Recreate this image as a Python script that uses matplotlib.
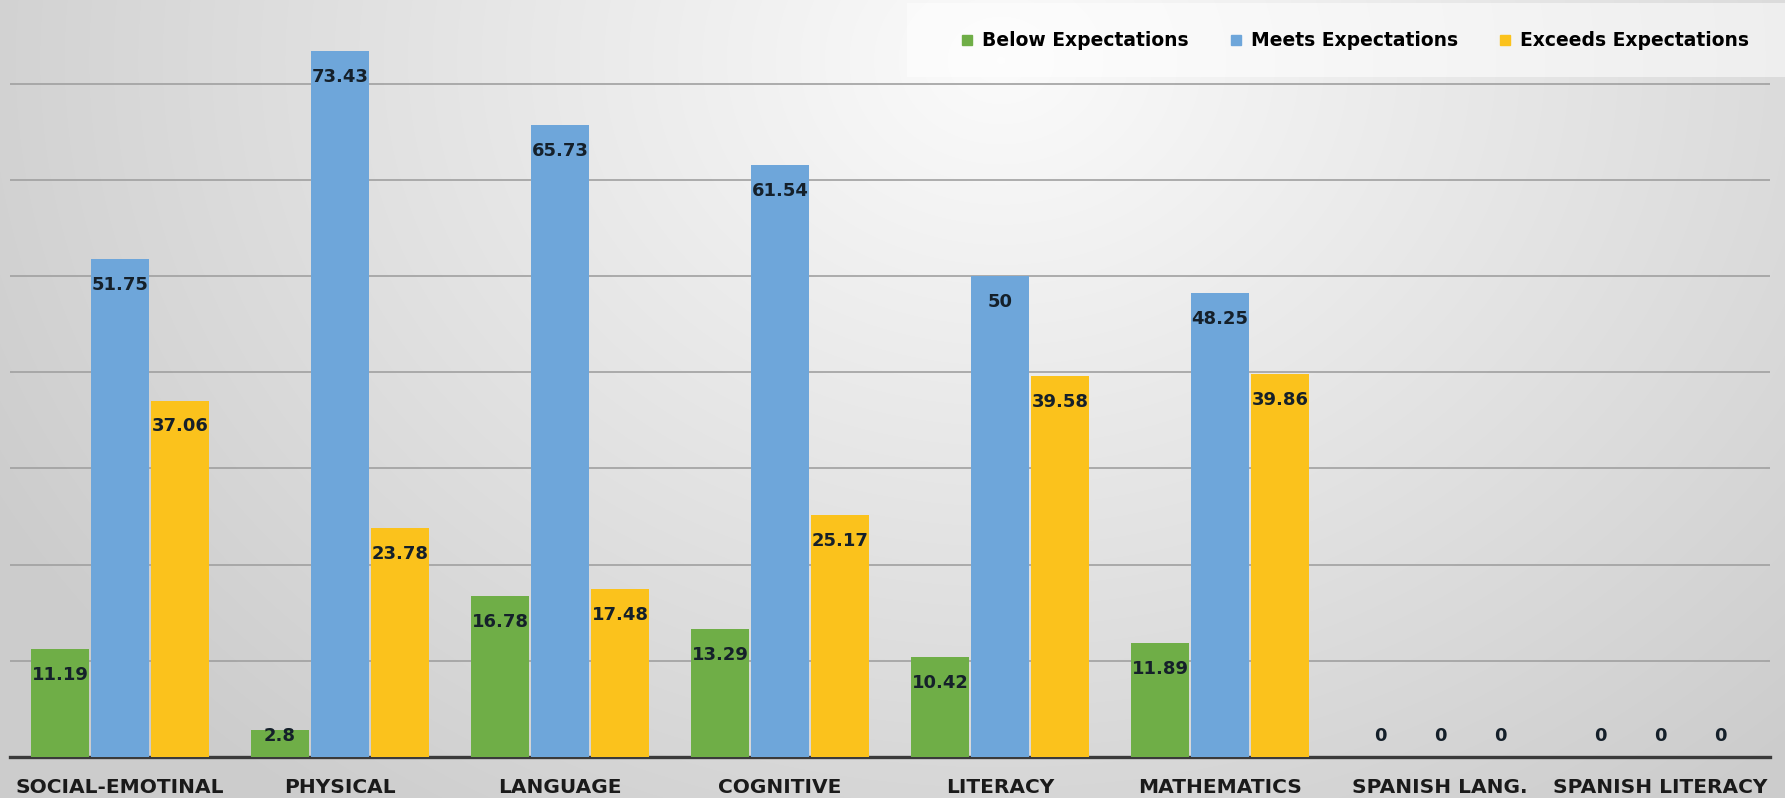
import numpy as np
import matplotlib
matplotlib.use("Agg")
import matplotlib.pyplot as plt
from matplotlib.patches import Rectangle
from matplotlib.lines import Line2D

categories = ["SOCIAL-EMOTINAL", "PHYSICAL", "LANGUAGE", "COGNITIVE",
              "LITERACY", "MATHEMATICS", "SPANISH LANG.", "SPANISH LITERACY"]
below = [11.19, 2.8, 16.78, 13.29, 10.42, 11.89, 0, 0]
meets = [51.75, 73.43, 65.73, 61.54, 50, 48.25, 0, 0]
exceeds = [37.06, 23.78, 17.48, 25.17, 39.58, 39.86, 0, 0]
series_names = ["Below Expectations", "Meets Expectations", "Exceeds Expectations"]
colors = ["#6fae47", "#6ea6da", "#fbc21c"]

plt.rcParams['font.family'] = ['DejaVu Sans']

W, H = 1785, 798
fig = plt.figure(figsize=(W / 100, H / 100), dpi=100)

# soft grey background, brightest near the top middle
bg = fig.add_axes([0, 0, 1, 1], zorder=-10)
yy, xx = np.mgrid[0:H, 0:W]
r = np.sqrt(((xx - 1000) / 1000.0) ** 2 + ((yy - 60) / 820.0) ** 2)
shade = 0.985 - 0.16 * np.clip(r, 0, 1.15)
bg.imshow(np.dstack([shade] * 3), extent=[0, 1, 0, 1], aspect='auto', origin='upper')
bg.axis('off')

ax = fig.add_axes([10 / W, 41 / H, 1760 / W, 757 / H])
ax.set_facecolor('none')

x = np.arange(len(categories))
offset = 0.273
width = 0.262
for k, (vals, col) in enumerate(zip([below, meets, exceeds], colors)):
    pos = x + (k - 1) * offset
    ax.bar(pos, vals, width, color=col, zorder=3)
    for xp, v in zip(pos, vals):
        ax.text(xp, max(v - 2.7, 2.2), f"{v:g}", ha='center', va='center',
                fontsize=13, fontweight='bold', color='#15202a', zorder=5)

ax.set_xlim(-0.5, len(categories) - 0.5)
ax.set_ylim(0, 78.7)
ax.set_yticks(np.arange(10, 80, 10))
ax.yaxis.grid(True, color='#a0a0a0', linewidth=1.2, zorder=0)
ax.tick_params(axis='y', left=False, labelleft=False)
ax.set_xticks(x)
ax.set_xticklabels(categories, fontsize=14.5, fontweight='bold', color='#1a1a1a')
ax.tick_params(axis='x', length=0, pad=15)
for s in ['top', 'right', 'left']:
    ax.spines[s].set_visible(False)
ax.spines['bottom'].set_color('#3a3a3a')
ax.spines['bottom'].set_linewidth(2.4)

# legend panel in the top right corner
fig.patches.append(Rectangle((907 / W, 1 - 77 / H), 878 / W, 74 / H,
                             transform=fig.transFigure, facecolor='white',
                             alpha=0.55, edgecolor='none', zorder=1))
handles = [Line2D([], [], marker='s', linestyle='none', markersize=7,
                  color=c) for c in colors]
fig.legend(handles, series_names, loc='center', ncol=3,
           bbox_to_anchor=(1355 / W, 1 - 41 / H), frameon=False,
           prop={'size': 13.5, 'weight': 'bold'}, handlelength=0.6,
           handletextpad=0.5, columnspacing=2.2)

fig.savefig("out.png", dpi=100)
